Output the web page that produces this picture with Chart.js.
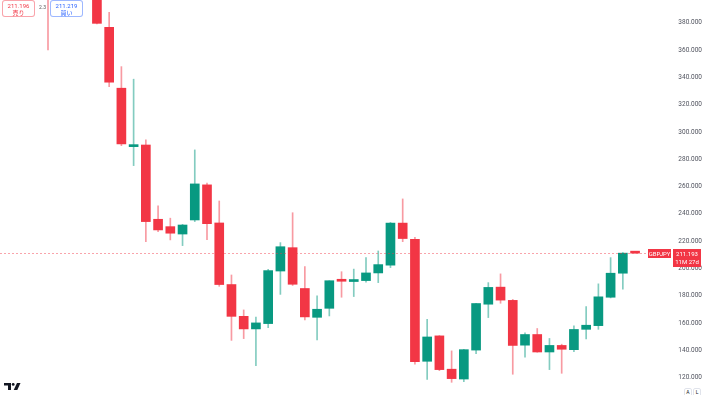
<!DOCTYPE html>
<html>
<head>
<meta charset="utf-8">
<script src="https://cdn.jsdelivr.net/npm/chart.js@4/dist/chart.umd.min.js"></script>
<style>
html,body{margin:0;padding:0;background:#fff;overflow:hidden;}
#wrap{position:relative;width:702px;height:395px;font-family:Roboto,"Liberation Sans","Noto Sans CJK JP",sans-serif;}
canvas{display:block;}
.qb{position:absolute;top:0;height:17px;width:33px;border:1px solid;border-radius:3px;background:#fff;box-sizing:border-box;text-align:center;font-size:6px;line-height:7px;padding-top:1px;}
.qb.sell{left:2px;border-color:rgba(242,54,69,0.45);color:#F23645;}
.qb.buy{left:50px;border-color:rgba(41,98,255,0.45);color:#2962FF;}
.sp{position:absolute;left:39px;top:4px;font-size:5px;color:#555;}
.btn{position:absolute;top:388px;width:8px;height:9px;border:1px solid #e0e3eb;border-radius:2px;box-sizing:border-box;font-size:5px;line-height:7px;text-align:center;color:#131722;background:#fff;}
#logo{position:absolute;left:4px;top:383px;}
</style>
</head>
<body>
<div id="wrap">
<canvas id="c" width="702" height="395"></canvas>
<div class="qb sell">211.196<br>売り</div>
<div class="sp">2.3</div>
<div class="qb buy">211.219<br>買い</div>
<svg id="logo" width="17" height="8" viewBox="0 0 17 8">
  <path d="M0 0 H7 V7 H4 V2.6 H0 Z" fill="#131722"/>
  <circle cx="9.2" cy="1.4" r="1.4" fill="#131722"/>
  <path d="M13 0 H16.5 L13.3 7 H9.7 Z" fill="#131722"/>
</svg>
<div class="btn" style="left:684px;">A</div>
<div class="btn" style="left:693px;">L</div>
</div>
<script>
// Yearly candles, GBPJPY
const years  = [1978,1979,1980,1981,1982,1983,1984,1985,1986,1987,1988,1989,1990,1991,1992,1993,1994,1995,1996,1997,1998,1999,2000,2001,2002,2003,2004,2005,2006,2007,2008,2009,2010,2011,2012,2013,2014,2015,2016,2017,2018,2019,2020,2021,2022,2023,2024,2025,2026];
const opens  = [462,398,533,485,420,376.6,332,289.2,290.4,236,230.6,225.2,235.5,261.2,233.3,188.2,164.9,155.7,159.6,198.1,215.2,185.3,164.2,170.8,191.2,190.4,191.1,196.7,202.4,233.2,221.4,132,150.6,126.2,119,140.2,173.8,186.3,176.6,143.8,151.6,138.8,143.6,140.5,155.4,158.1,178.9,196.5,211.25];
const highs  = [470,540,590,530,450,387.5,347.8,338.6,294.1,245.8,236.8,232.3,286.8,262.5,249.4,195.2,169.6,164.4,199.4,218.9,240.8,201.3,179.9,191,197.6,199.5,207.9,212.8,233.7,250.9,222.8,162.8,150.8,139.6,140.8,174.4,189.6,196,177.3,152.8,156,148.7,144.5,157.9,172,188.7,207.9,211.6,211.3];
const lows   = [360,395,470,405,379,333.1,289.9,275.3,219.6,227,220.9,216.7,234.3,221,186.9,147.3,148.6,128.8,156.6,181,187.5,162.3,147.6,165.2,178.9,179.4,189.9,189.6,200.6,219.6,129.8,118.8,125.1,116.6,117.1,137.6,164,174.5,122.5,135,138.6,125.9,123.2,139,148.4,155.4,178.4,184.8,211.1];
const closes = [398,533,485,420,379.5,336.4,291.2,290,234.3,228.2,225.8,231.8,261.9,232.8,188.2,164.9,155.7,160.1,198.4,215.9,188.4,164.5,170.1,191,190.6,191.2,196.7,202.8,233.2,221.9,131.7,149.8,125.9,119.3,140.5,174.3,186.1,176.8,143.6,151.6,138.8,143.6,140.8,155.3,158.4,179.2,196.5,211.193,211.193];
const yTicks = [120,140,160,180,200,220,240,260,280,300,320,340,360,380];
const symbol = "GBPJPY";
const lastPrice = 211.193;
const countdown = "11M 27d";

const UP = '#089981', DOWN = '#F23645';
const isUp = years.map((y,i)=>closes[i] >= opens[i]);

const priceLine = {
  id:'priceLine',
  afterDatasetsDraw(chart){
    const {ctx, chartArea, scales} = chart;
    const y = Math.round(scales.y.getPixelForValue(lastPrice)) + 0.5;
    ctx.save();
    ctx.strokeStyle = 'rgba(242,54,69,0.45)';
    ctx.lineWidth = 1;
    ctx.setLineDash([2,2]);
    ctx.beginPath();
    ctx.moveTo(chartArea.left, y);
    ctx.lineTo(chartArea.right, y);
    ctx.stroke();
    ctx.setLineDash([]);
    // symbol label
    const x0 = chartArea.right + 1;
    ctx.fillStyle = DOWN;
    ctx.fillRect(x0, y - 4.5, 23, 9);
    ctx.fillRect(x0 + 25, y - 4.5, 28, 18);
    ctx.fillStyle = '#fff';
    ctx.font = '6px Roboto, "Liberation Sans", sans-serif';
    ctx.textBaseline = 'middle';
    ctx.textAlign = 'center';
    ctx.fillText(symbol, x0 + 11.5, y + 0.5);
    ctx.fillText(lastPrice.toFixed(3), x0 + 39, y + 0.5);
    ctx.fillText(countdown, x0 + 39, y + 9);
    ctx.restore();
  }
};

new Chart(document.getElementById('c'), {
  type: 'bar',
  data: {
    datasets: [
      {
        label: 'wick',
        data: years.map((yr,i)=>({x: yr, y: [lows[i], highs[i]]})),
        backgroundColor: isUp.map(u => u ? 'rgba(8,153,129,0.5)' : 'rgba(242,54,69,0.5)'),
        barThickness: 1,
        grouped: false,
        order: 2
      },
      {
        label: 'body',
        data: years.map((yr,i)=>({x: yr, y: [opens[i], closes[i]]})),
        backgroundColor: isUp.map(u => u ? UP : DOWN),
        barThickness: 9,
        minBarLength: 2,
        grouped: false,
        order: 1
      }
    ]
  },
  options: {
    responsive: false,
    animation: false,
    devicePixelRatio: 1,
    layout: { padding: 0 },
    plugins: { legend: { display: false }, tooltip: { enabled: false } },
    scales: {
      x: {
        type: 'linear',
        display: false,
        min: years[0] - 3.925,
        max: years[0] - 3.925 + 52.9,
        offset: false
      },
      y: {
        position: 'right',
        min: 107.3,
        max: 396.6,
        grid: { display: false },
        border: { display: false },
        afterBuildTicks: s => { s.ticks = yTicks.map(v => ({ value: v })); },
        afterFit: s => { s.width = 55; s.paddingTop = 0; s.paddingBottom = 0; },
        ticks: {
          callback: v => Number(v).toFixed(3),
          color: '#50535e',
          font: { size: 6.5, family: 'Roboto, "Liberation Sans", sans-serif' },
          crossAlign: 'far',
          padding: 4
        }
      }
    }
  },
  plugins: [priceLine]
});
</script>
</body>
</html>
